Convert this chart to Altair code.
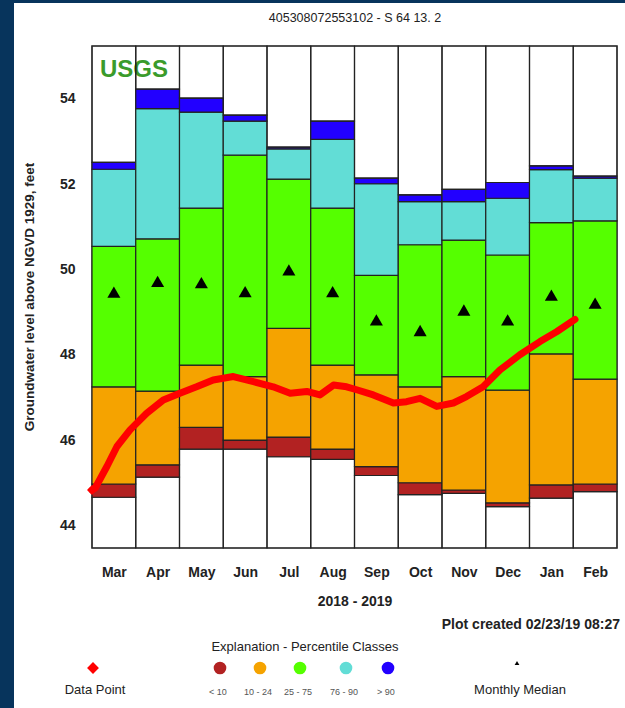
import altair as alt
import pandas as pd

# ---------------- data ----------------
months = ["Mar", "Apr", "May", "Jun", "Jul", "Aug", "Sep", "Oct", "Nov", "Dec", "Jan", "Feb"]
p_min = [44.66, 45.13, 45.79, 45.79, 45.61, 45.55, 45.17, 44.72, 44.75, 44.44, 44.64, 44.79]
p10 = [44.97, 45.42, 46.30, 46.00, 46.07, 45.79, 45.38, 45.00, 44.83, 44.53, 44.95, 44.97]
p25 = [47.25, 47.15, 47.76, 47.49, 48.62, 47.76, 47.53, 47.25, 47.49, 47.17, 48.02, 47.43]
p75 = [50.54, 50.72, 51.44, 52.68, 52.12, 51.44, 49.86, 50.58, 50.69, 50.34, 51.10, 51.14]
p90 = [52.35, 53.77, 53.69, 53.48, 52.83, 53.05, 52.01, 51.59, 51.59, 51.67, 52.34, 52.14]
p_max = [52.51, 54.23, 54.02, 53.62, 52.87, 53.48, 52.14, 51.75, 51.88, 52.04, 52.43, 52.19]
median = [49.47, 49.72, 49.69, 49.48, 49.99, 49.48, 48.82, 48.57, 49.05, 48.82, 49.40, 49.21]

# daily water level trace (position in months from 1 Mar 2018, level in feet)
line_month = [0.00, 0.07, 0.34, 0.57, 0.87, 1.25, 1.63, 2.01, 2.39, 2.77, 3.23, 3.69,
              4.14, 4.53, 4.91, 5.21, 5.52, 5.82, 6.05, 6.43, 6.89, 7.19, 7.50, 7.88,
              8.26, 8.56, 8.94, 9.33, 9.78, 10.24, 10.62, 11.04]
line_level = [44.83, 44.87, 45.38, 45.85, 46.24, 46.63, 46.94, 47.10, 47.25, 47.41, 47.49, 47.37,
              47.25, 47.10, 47.14, 47.06, 47.29, 47.25, 47.18, 47.06, 46.87, 46.90, 46.98, 46.79,
              46.87, 47.02, 47.25, 47.65, 48.00, 48.31, 48.54, 48.83]

y_ticks = [44, 46, 48, 50, 52, 54]
class_names = ["below", "<10", "10-24", "25-75", "76-90", ">90", "above"]
class_colors = ["transparent", "#b22222", "#f5a300", "#55ff00", "#62ddd6", "#2200ff", "transparent"]
legend_labels = ["< 10", "10 - 24", "25 - 75", "76 - 90", "> 90"]

Y_LO, Y_HI = 43.47, 55.24
W, H = 525, 502
FONT = "Liberation Sans"

# ---------------- tables ----------------
rows = []
for i, m in enumerate(months):
    b = [Y_LO, p_min[i], p10[i], p25[i], p75[i], p90[i], p_max[i], Y_HI]
    for k, c in enumerate(class_names):
        rows.append(dict(x=i, x2=i + 1, y=b[k], y2=b[k + 1], cls=c, month=m))
bars_df = pd.DataFrame(rows)
med_df = pd.DataFrame({"xm": [i + 0.5 for i in range(12)], "med": median})
line_df = pd.DataFrame({"m": line_month, "lvl": line_level})

xs = alt.Scale(domain=[0, 12], nice=False, zero=False)
ys = alt.Scale(domain=[Y_LO, Y_HI], nice=False, zero=False)

label_expr = "[" + ",".join(f"'{m}'" for m in months) + "][floor(datum.value)]"
x_axis = alt.Axis(values=[i + 0.5 for i in range(12)], labelExpr=label_expr, title=None,
                  ticks=False, domain=False, grid=False, labelFontSize=14, labelFontWeight="bold",
                  labelColor="#222", labelPadding=17, labelFlush=False, labelOverlap=False,
                  labelFont=FONT)
y_axis = alt.Axis(values=y_ticks, title=None, ticks=False, domain=False, grid=False,
                  labelFontSize=14, labelFontWeight="bold", labelColor="#222",
                  labelPadding=17, labelFont=FONT)


def txt(s, x, y, size=12, weight="normal", color="#222", align="center", angle=0, font=FONT):
    return alt.Chart(pd.DataFrame({"t": [s]})).mark_text(
        fontSize=size, fontWeight=weight, color=color, align=align, baseline="middle",
        angle=angle, font=font
    ).encode(x=alt.value(x), y=alt.value(y), text="t:N")


one = pd.DataFrame({"a": [0]})
frame_left = alt.Chart(one).mark_rect(color="#07345c").encode(
    x=alt.value(-92), x2=alt.value(-78), y=alt.value(-46), y2=alt.value(662))
frame_top = alt.Chart(one).mark_rect(color="#07345c").encode(
    x=alt.value(-92), x2=alt.value(533), y=alt.value(-46), y2=alt.value(-43))

usgs = txt("USGS", 8, 24, size=24, weight="bold", color="#3a9b2b", align="left")

bars = alt.Chart(bars_df).mark_rect(stroke="#222", strokeWidth=1.2).encode(
    x=alt.X("x:Q", scale=xs, axis=x_axis),
    x2="x2:Q",
    y=alt.Y("y:Q", scale=ys, axis=y_axis),
    y2="y2:Q",
    color=alt.Color("cls:N", scale=alt.Scale(domain=class_names, range=class_colors), legend=None),
)

meds = alt.Chart(med_df).mark_point(shape="triangle-up", filled=True, color="black",
                                    size=170, opacity=1).encode(
    x=alt.X("xm:Q", scale=xs), y=alt.Y("med:Q", scale=ys))

line = alt.Chart(line_df).mark_line(color="#ff0000", strokeWidth=7, strokeJoin="round",
                                    strokeCap="round").encode(
    x=alt.X("m:Q", scale=xs), y=alt.Y("lvl:Q", scale=ys))

first_pt = alt.Chart(line_df.iloc[[0]]).mark_point(shape="diamond", filled=True, color="#ff0000",
                                                  size=100, opacity=1).encode(
    x=alt.X("m:Q", scale=xs), y=alt.Y("lvl:Q", scale=ys))

# texts around the plot
title = txt("405308072553102 - S 64 13. 2", 263, -28, size=12.5)
ytitle = txt("Groundwater level above NGVD 1929, feet", -62, 251, size=13.5, weight="bold", angle=270)
xtitle = txt("2018 - 2019", 263, 556, size=14, weight="bold")
created = txt("Plot created 02/23/19 08:27", 528, 579, size=14, weight="bold", align="right")
expl = txt("Explanation - Percentile Classes", 213, 601, size=13)

# legend symbols
leg_x = [128, 168, 208, 254, 296]
leg_layers = []
for j in range(5):
    leg_layers.append(alt.Chart(one).mark_point(shape="circle", filled=True, size=160, opacity=1,
                                                color=class_colors[j + 1]).encode(
        x=alt.value(leg_x[j]), y=alt.value(622)))
    leg_layers.append(txt(legend_labels[j], leg_x[j] - 2, 646, size=9, color="#555"))

dp_sym = alt.Chart(one).mark_point(shape="diamond", filled=True, size=140, opacity=1,
                                   color="#ff0000").encode(x=alt.value(1), y=alt.value(622))
dp_lab = txt("Data Point", 3, 644, size=13)
mm_sym = alt.Chart(one).mark_point(shape="triangle-up", filled=True, size=22, opacity=1,
                                   color="black").encode(x=alt.value(425), y=alt.value(617))
mm_lab = txt("Monthly Median", 428, 644, size=13)

chart = alt.layer(
    frame_left, frame_top, usgs, bars, meds, line, first_pt,
    title, ytitle, xtitle, created, expl, dp_sym, dp_lab, mm_sym, mm_lab, *leg_layers
).properties(
    width=W, height=H,
    autosize=alt.AutoSizeParams(type="none"),
    padding={"left": 92, "top": 46, "right": 8, "bottom": 160},
    background="white",
).configure_view(stroke="#555", strokeWidth=1.5)

chart.save("out.html", embed_options={"renderer": "svg", "actions": False})
